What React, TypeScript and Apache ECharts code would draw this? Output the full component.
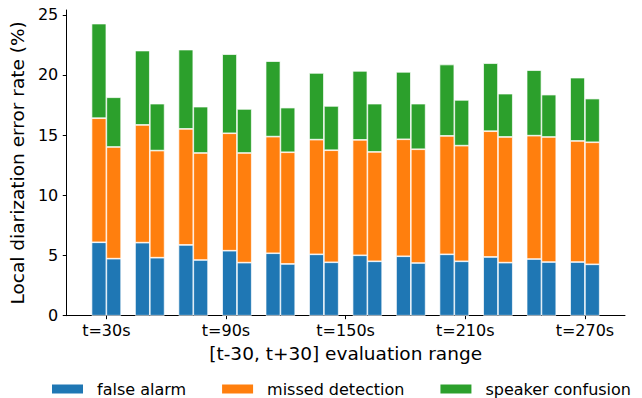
import React, { useEffect, useRef } from "react";
import * as echarts from "echarts";

// evaluation window centres (s), 12 groups from t=30 to t=270
const tCenters = [30, 51.8, 73.6, 95.5, 117.3, 139.1, 160.9, 182.7, 204.5, 226.4, 248.2, 270];
const tickLabels = [30, 90, 150, 210, 270];

// left bar of each pair
const faA = [6.1, 6.07, 5.88, 5.4, 5.19, 5.1, 5.02, 4.94, 5.1, 4.88, 4.71, 4.46];
const mdA = [10.31, 9.78, 9.64, 9.76, 9.69, 9.53, 9.59, 9.72, 9.84, 10.45, 10.25, 10.06];
const scA = [7.86, 6.18, 6.59, 6.57, 6.27, 5.54, 5.73, 5.6, 5.93, 5.65, 5.44, 5.26];
// right bar of each pair
const faB = [4.74, 4.82, 4.63, 4.41, 4.3, 4.44, 4.52, 4.38, 4.52, 4.41, 4.46, 4.27];
const mdB = [9.28, 8.9, 8.89, 9.11, 9.28, 9.31, 9.09, 9.45, 9.61, 10.44, 10.39, 10.14];
const scB = [4.13, 3.9, 3.85, 3.66, 3.71, 3.68, 4.01, 3.79, 3.8, 3.6, 3.52, 3.63];

const COLORS = { fa: "#1f77b4", md: "#ff7f0e", sc: "#2ca02c" };
const FONT = "DejaVu Sans";

export default function App() {
  const ref = useRef<HTMLDivElement>(null);
  useEffect(() => {
    if (!ref.current) return;
    const chart = echarts.init(ref.current, undefined, { renderer: "svg" });
    // value first so the stack runs on the value dimension; x taken from dim 1
    const pairs = (vals: number[]) => vals.map((v, i) => [v, tCenters[i]]);
    const mk = (name: string, stack: string, vals: number[], color: string) => ({
      name,
      type: "bar",
      stack,
      data: pairs(vals),
      dimensions: ["val", "t"],
      encode: { x: 1, y: 0 },
      barWidth: 14.8,
      barGap: "0%",
      itemStyle: { color, borderColor: "#ffffff", borderWidth: 0.7 },
      emphasis: { disabled: true },
    });
    chart.setOption({
      animation: false,
      textStyle: { fontFamily: FONT },
      grid: { left: 62.3, right: 17, top: 10, bottom: 82.3, containLabel: false },
      legend: {
        left: 50,
        top: 381,
        padding: 0,
        icon: "rect",
        itemWidth: 33,
        itemHeight: 11,
        itemGap: 34,
        selectedMode: false,
        textStyle: { fontFamily: FONT, fontSize: 16, color: "#000", padding: [0, 0, 0, 8] },
        data: [
          { name: "false alarm", itemStyle: { color: COLORS.fa } },
          { name: "missed detection", itemStyle: { color: COLORS.md } },
          { name: "speaker confusion", itemStyle: { color: COLORS.sc } },
        ],
      },
      xAxis: {
        type: "value",
        min: 9.9,
        max: 290.1,
        name: "[t-30, t+30] evaluation range",
        nameLocation: "middle",
        nameGap: 25,
        nameTextStyle: { fontFamily: FONT, fontSize: 18.5, color: "#000" },
        axisLine: { show: true, lineStyle: { color: "#000", width: 1 } },
        axisTick: { show: true, length: 3.5, lineStyle: { color: "#000" }, customValues: tickLabels },
        axisLabel: {
          customValues: tickLabels,
          formatter: (v: number) => `t=${v}s`,
          fontFamily: FONT,
          fontSize: 16,
          color: "#000",
          margin: 7,
        },
        splitLine: { show: false },
      },
      yAxis: {
        type: "value",
        min: 0,
        max: 25.4,
        interval: 5,
        name: "Local diarization error rate (%)",
        nameLocation: "middle",
        nameGap: 36,
        nameTextStyle: { fontFamily: FONT, fontSize: 18.5, color: "#000" },
        axisLine: { show: true, lineStyle: { color: "#000", width: 1 } },
        axisTick: { show: true, length: 3.5, lineStyle: { color: "#000" } },
        axisLabel: {
          fontFamily: FONT,
          fontSize: 16,
          color: "#000",
          margin: 8,
          showMaxLabel: false,
          formatter: (v: number) => (v % 5 === 0 ? String(v) : ""),
        },
        splitLine: { show: false },
      },
      series: [
        mk("false alarm", "A", faA, COLORS.fa),
        mk("missed detection", "A", mdA, COLORS.md),
        mk("speaker confusion", "A", scA, COLORS.sc),
        mk("false alarm", "B", faB, COLORS.fa),
        mk("missed detection", "B", mdB, COLORS.md),
        mk("speaker confusion", "B", scB, COLORS.sc),
      ],
    });
    return () => chart.dispose();
  }, []);
  return (
    <div
      ref={ref}
      style={{ position: "fixed", left: 0, top: 0, width: 642, height: 398, background: "#fff" }}
    />
  );
}
